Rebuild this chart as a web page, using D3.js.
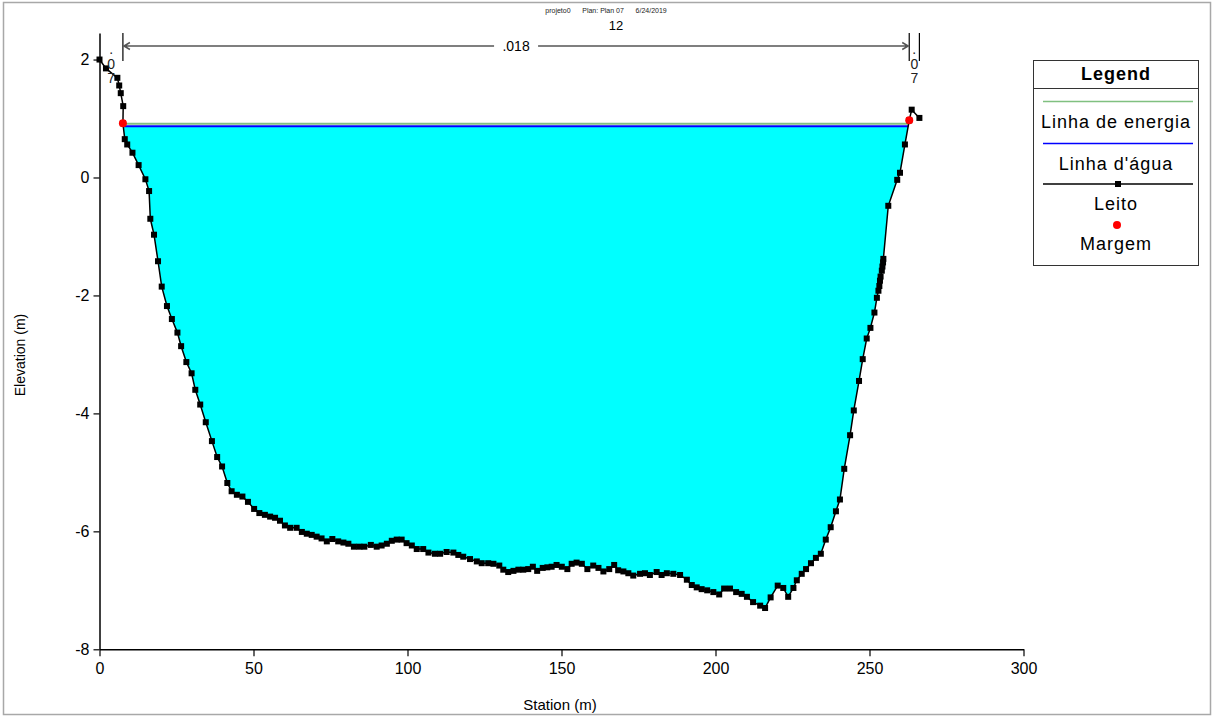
<!DOCTYPE html>
<html>
<head>
<meta charset="utf-8">
<script src="https://cdn.jsdelivr.net/npm/d3@7"></script>
<style>
  body { margin: 0; background: #fff; }
  text { font-family: Arial, "Liberation Sans", sans-serif; }
</style>
</head>
<body>
<script>

// DATI DELLA SEZIONE (STATION / ELEVATION)
//
var stations = [
  0, 2.1, 5.8, 6.4, 6.9, 7.7, 7.6, 8.2, 9.0, 10.7,
  12.7, 14.9, 16.1, 16.5, 17.7, 19.0, 20.2, 21.9, 23.5, 25.3,
  26.5, 28.2, 29.9, 31.1, 32.7, 34.5, 36.5, 38.2, 39.8, 41.5,
  42.9, 44.6, 46.4, 48.2, 50.2, 51.9, 53.7, 55.4, 57.0, 58.6,
  60.2, 61.9, 64.0, 65.7, 67.3, 68.9, 70.5, 72.1, 73.8, 75.6,
  77.5, 79.2, 80.8, 82.6, 84.4, 86.0, 88.1, 90.0, 91.6, 93.3,
  94.9, 96.5, 98.1, 99.7, 101.4, 103.0, 105.1, 106.8, 108.9, 110.6,
  112.7, 114.9, 116.5, 118.1, 120.3, 122.5, 124.1, 126.2, 127.9, 129.8,
  131.1, 132.7, 134.4, 136.0, 137.6, 139.2, 140.7, 142.1, 143.9, 145.4,
  146.8, 148.4, 150.1, 151.9, 153.3, 154.9, 156.6, 158.4, 160.3, 162.0,
  163.6, 165.5, 167.1, 168.4, 170.1, 171.7, 173.3, 175.5, 177.1, 178.7,
  180.9, 182.5, 184.2, 186.3, 188.5, 190.7, 192.3, 193.9, 195.5, 197.3,
  199.3, 201.2, 202.8, 204.7, 206.7, 208.5, 210.2, 212.2, 214.5, 216.1,
  217.9, 220.2, 222.0, 223.6, 225.3, 226.4, 228.0, 229.4, 231.0, 232.6,
  234.2, 235.8, 237.4, 239.1, 240.4, 241.8, 243.7, 244.9, 246.6, 247.8,
  249.1, 250.3, 251.6, 252.4, 252.9, 253.2, 253.4, 253.6, 254.0, 254.2,
  254.4, 254.5, 256.1, 259.0, 259.9, 261.5, 262.9, 263.7, 266.2
];

var elevations = [
  2.00, 1.85, 1.69, 1.56, 1.43, 1.21, 0.92, 0.65, 0.56, 0.42,
  0.21, -0.03, -0.23, -0.70, -0.97, -1.42, -1.85, -2.18, -2.40, -2.63,
  -2.86, -3.13, -3.32, -3.60, -3.85, -4.15, -4.47, -4.74, -4.90, -5.18,
  -5.32, -5.38, -5.41, -5.50, -5.62, -5.69, -5.72, -5.75, -5.77, -5.82,
  -5.90, -5.94, -5.94, -6.01, -6.04, -6.06, -6.09, -6.12, -6.17, -6.13,
  -6.17, -6.19, -6.21, -6.26, -6.26, -6.26, -6.23, -6.26, -6.24, -6.21,
  -6.16, -6.14, -6.14, -6.20, -6.24, -6.30, -6.30, -6.36, -6.38, -6.38,
  -6.35, -6.36, -6.40, -6.43, -6.47, -6.51, -6.54, -6.54, -6.55, -6.58,
  -6.65, -6.69, -6.67, -6.65, -6.65, -6.64, -6.60, -6.67, -6.62, -6.61,
  -6.60, -6.57, -6.60, -6.64, -6.55, -6.53, -6.55, -6.64, -6.58, -6.62,
  -6.68, -6.64, -6.57, -6.66, -6.68, -6.71, -6.75, -6.72, -6.71, -6.74,
  -6.69, -6.74, -6.71, -6.72, -6.74, -6.82, -6.91, -6.95, -6.98, -7.00,
  -7.03, -7.07, -6.97, -6.97, -7.03, -7.06, -7.11, -7.20, -7.26, -7.30,
  -7.12, -6.92, -6.96, -7.11, -6.96, -6.83, -6.72, -6.64, -6.54, -6.45,
  -6.38, -6.14, -5.93, -5.66, -5.46, -4.94, -4.37, -3.95, -3.45, -3.08,
  -2.73, -2.55, -2.29, -2.04, -1.92, -1.84, -1.75, -1.68, -1.58, -1.51,
  -1.44, -1.38, -0.48, -0.04, 0.08, 0.56, 0.97, 1.15, 1.01
];

// SPONDE (MARGEM) E LIVELLI
//
var bankStations = [7.6, 262.9];
var bankElevations = [0.92, 0.97];
var waterSurface = 0.87;
var energyGrade = 0.91;

// MANNING n E TESTI
//
var nValues = [".07", ".018", ".07"];
var xTicks = [0, 50, 100, 150, 200, 250, 300];
var yTicks = [-8, -6, -4, -2, 0, 2];
var titleLine = "projeto0      Plan: Plan 07      6/24/2019";
var sectionName = "12";
var legendLabels = ["Linha de energia", "Linha d'água", "Leito", "Margem"];

// VARIABILI PER DOM
//
var width = 1214;
var height = 717;

var svg = d3.select("body").append("svg")
  .attr("width", width)
  .attr("height", height);

// cornice grigia
svg.append("rect")
  .attr("x", 3.5).attr("y", 2.5)
  .attr("width", 1207).attr("height", 712)
  .attr("fill", "none").attr("stroke", "#a8a8a8").attr("stroke-width", 1.5);

var x = d3.scaleLinear().domain([0, 300]).range([99.5, 1023.5]);
var y = d3.scaleLinear().domain([-8, 2.45]).range([649.3, 33]);

var bed = stations.map(function(s, i) { return { st: s, el: elevations[i] }; });

// POLIGONO DELL'ACQUA
//
function crossing(a, b, level) {
  var t = (level - a.el) / (b.el - a.el);
  return { st: a.st + t * (b.st - a.st), el: level };
}

var leftIdx = 0, rightIdx = bed.length - 1;
for (var i = 0; i < bed.length - 1; i++) {
  if (bed[i].el >= waterSurface && bed[i + 1].el < waterSurface) { leftIdx = i; break; }
}
for (var j = bed.length - 1; j > 0; j--) {
  if (bed[j].el >= waterSurface && bed[j - 1].el < waterSurface) { rightIdx = j; break; }
}
var leftCross = crossing(bed[leftIdx], bed[leftIdx + 1], waterSurface);
var rightCross = crossing(bed[rightIdx - 1], bed[rightIdx], waterSurface);

var waterPoly = [leftCross].concat(bed.slice(leftIdx + 1, rightIdx)).concat([rightCross]);

var line = d3.line()
  .x(function(d) { return x(d.st); })
  .y(function(d) { return y(d.el); });

svg.append("path")
  .attr("d", line(waterPoly) + "Z")
  .attr("fill", "#00ffff")
  .attr("stroke", "none");

// energia e pelo libero
svg.append("line")
  .attr("x1", x(leftCross.st)).attr("x2", x(rightCross.st))
  .attr("y1", y(energyGrade)).attr("y2", y(energyGrade))
  .attr("stroke", "#80c080").attr("stroke-width", 2);

svg.append("line")
  .attr("x1", x(leftCross.st)).attr("x2", x(rightCross.st))
  .attr("y1", y(waterSurface)).attr("y2", y(waterSurface))
  .attr("stroke", "#0000ff").attr("stroke-width", 2);

// ASSI
//
var plainFmt = function(d) { return String(d); };

var gx = svg.append("g").attr("transform", "translate(0," + y(-8) + ")");
gx.call(d3.axisBottom(x).tickValues(d3.range(0, 301, 10)).tickSize(4).tickFormat("").tickSizeOuter(0));
gx.call(d3.axisBottom(x).tickValues(xTicks).tickSize(7).tickSizeOuter(0).tickPadding(6).tickFormat(plainFmt));

var gy = svg.append("g").attr("transform", "translate(" + x(0) + ",0)");
gy.call(d3.axisLeft(y).tickValues(d3.range(0, 26).map(function(k) { return -8 + k * 0.4; })).tickSize(4).tickFormat("").tickSizeOuter(0));
gy.call(d3.axisLeft(y).tickValues(yTicks).tickSize(6).tickSizeOuter(0).tickPadding(4).tickFormat(plainFmt));

svg.selectAll(".domain").attr("stroke", "#000").attr("stroke-width", 1.5);
svg.selectAll(".tick line").attr("stroke", "#000").attr("stroke-width", 1.2);
svg.selectAll(".tick text")
  .attr("font-family", "Arial, 'Liberation Sans', sans-serif")
  .attr("font-size", 16).attr("fill", "#000");

svg.append("text")
  .attr("x", 560).attr("y", 710)
  .attr("text-anchor", "middle").attr("font-size", 15)
  .text("Station (m)");

svg.append("text")
  .attr("transform", "translate(25,355) rotate(-90)")
  .attr("text-anchor", "middle").attr("font-size", 14)
  .text("Elevation (m)");

// LEITO
//
svg.append("path")
  .attr("d", line(bed))
  .attr("fill", "none").attr("stroke", "#000").attr("stroke-width", 1.5);

svg.selectAll(".bedpt").data(bed).enter().append("rect")
  .attr("class", "bedpt")
  .attr("x", function(d) { return x(d.st) - 3; })
  .attr("y", function(d) { return y(d.el) - 3; })
  .attr("width", 6).attr("height", 6)
  .attr("fill", "#000");

svg.selectAll(".bank").data(bankStations).enter().append("circle")
  .attr("class", "bank")
  .attr("cx", function(d) { return x(d); })
  .attr("cy", function(d, i) { return y(bankElevations[i]); })
  .attr("r", 4)
  .attr("fill", "#ff0000");

// MANNING n IN ALTO
//
var markers = [bankStations[0], bankStations[1], stations[stations.length - 1]];
markers.forEach(function(s) {
  svg.append("line")
    .attr("x1", x(s)).attr("x2", x(s))
    .attr("y1", 33).attr("y2", 61)
    .attr("stroke", "#000").attr("stroke-width", 1.2);
});

var dimY = 46;
var dimX1 = x(bankStations[0]) + 1, dimX2 = x(bankStations[1]) - 1;
var midX = (dimX1 + dimX2) / 2;
svg.append("path")
  .attr("d", "M" + dimX1 + "," + dimY + "H" + (midX - 22) + "M" + (midX + 22) + "," + dimY + "H" + dimX2 +
    "M" + (dimX1 + 6) + "," + (dimY - 3.5) + "L" + dimX1 + "," + dimY + "L" + (dimX1 + 6) + "," + (dimY + 3.5) +
    "M" + (dimX2 - 6) + "," + (dimY - 3.5) + "L" + dimX2 + "," + dimY + "L" + (dimX2 - 6) + "," + (dimY + 3.5))
  .attr("fill", "none").attr("stroke", "#555").attr("stroke-width", 1.5);

svg.append("text")
  .attr("x", midX).attr("y", dimY + 5)
  .attr("text-anchor", "middle").attr("font-size", 14)
  .text(nValues[1]);

var stackX = [(x(0) + x(bankStations[0])) / 2, (x(bankStations[1]) + x(stations[stations.length - 1])) / 2];
[nValues[0], nValues[2]].forEach(function(txt, k) {
  txt.split("").forEach(function(ch, c) {
    svg.append("text")
      .attr("x", stackX[k]).attr("y", 54 + c * 14.5)
      .attr("text-anchor", "middle").attr("font-size", 14)
      .attr("fill", "#222")
      .text(ch);
  });
});

// TITOLO
//
svg.append("text")
  .attr("x", 606).attr("y", 12.5)
  .attr("text-anchor", "middle").attr("font-size", 7)
  .attr("fill", "#222")
  .style("white-space", "pre")
  .text(titleLine);

svg.append("text")
  .attr("x", 616).attr("y", 30)
  .attr("text-anchor", "middle").attr("font-size", 13)
  .text(sectionName);

// LEGENDA
//
var lg = svg.append("g");
lg.append("rect")
  .attr("x", 1033.5).attr("y", 60.5)
  .attr("width", 165).attr("height", 205)
  .attr("fill", "#fff").attr("stroke", "#333").attr("stroke-width", 1);
lg.append("line")
  .attr("x1", 1033.5).attr("x2", 1198.5)
  .attr("y1", 88.5).attr("y2", 88.5)
  .attr("stroke", "#333");
lg.append("text")
  .attr("x", 1116).attr("y", 80)
  .attr("text-anchor", "middle").attr("font-size", 18).attr("font-weight", "bold")
  .attr("letter-spacing", 1)
  .text("Legend");

var lgLineY = [101.5, 143.5, 184, 225];
var lgTextY = [128, 169.5, 209.5, 250];
var lgColors = ["#80c080", "#0000ff", "#000", "#ff0000"];

legendLabels.forEach(function(lab, k) {
  if (k < 3) {
    lg.append("line")
      .attr("x1", 1043).attr("x2", 1193)
      .attr("y1", lgLineY[k]).attr("y2", lgLineY[k])
      .attr("stroke", lgColors[k]).attr("stroke-width", 1.5);
  }
  if (k == 2) {
    lg.append("rect")
      .attr("x", 1118 - 3).attr("y", lgLineY[k] - 3)
      .attr("width", 6).attr("height", 6).attr("fill", "#000");
  }
  if (k == 3) {
    lg.append("circle")
      .attr("cx", 1117).attr("cy", lgLineY[k]).attr("r", 4).attr("fill", "#ff0000");
  }
  lg.append("text")
    .attr("x", 1116).attr("y", lgTextY[k])
    .attr("text-anchor", "middle").attr("font-size", 18)
    .attr("letter-spacing", 1)
    .text(lab);
});

</script>
</body>
</html>
